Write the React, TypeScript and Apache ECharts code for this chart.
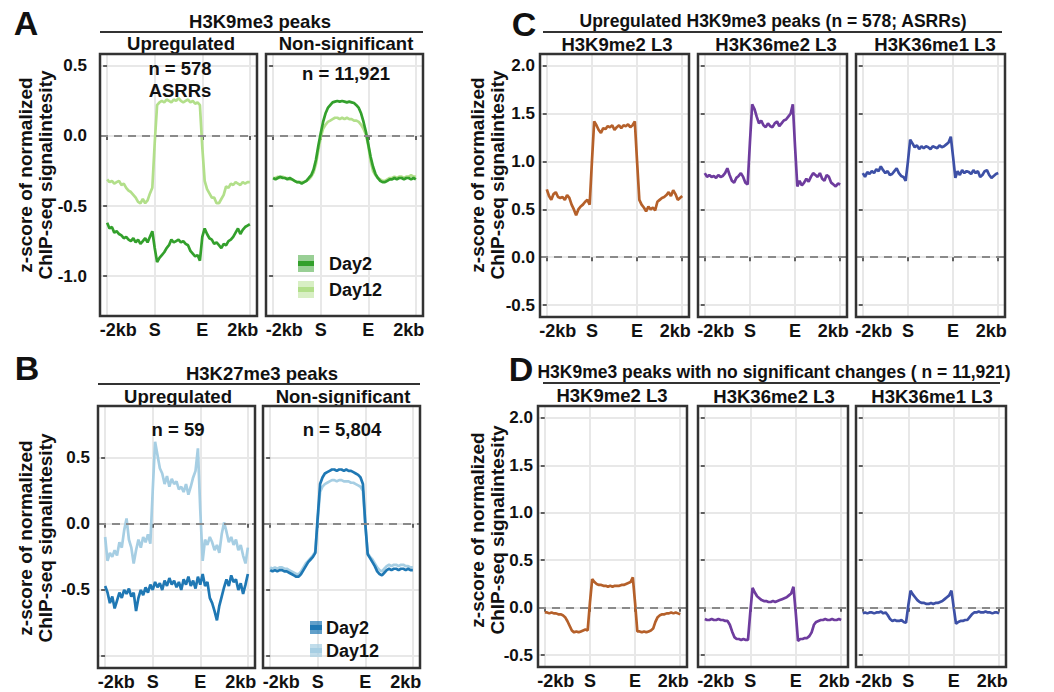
import React, { useEffect, useRef } from "react";
import * as echarts from "echarts";

// ---------- data ----------
const STEP = 0.05; // bin width on the -2kb(0) .. S(1) .. E(2) .. 2kb(3) scale
const X_TICKS = [0, 1, 2, 3];
const X_TICK_LABELS = ["-2kb", "S", "E", "2kb"];

const A_UP_DAY12 = [
  -0.31, -0.33, -0.32, -0.34, -0.33, -0.32, -0.35, -0.34, -0.37, -0.39,
  -0.40, -0.42, -0.44, -0.47, -0.48, -0.45, -0.48, -0.46, -0.41, -0.37,
  -0.05, 0.22, 0.24, 0.25, 0.24, 0.26, 0.25, 0.24, 0.26, 0.25,
  0.27, 0.25, 0.24, 0.25, 0.26, 0.24, 0.25, 0.23, 0.24, 0.22,
  -0.08, -0.32, -0.38, -0.41, -0.44, -0.44, -0.48, -0.48, -0.45, -0.42,
  -0.36, -0.37, -0.34, -0.35, -0.33, -0.34, -0.35, -0.33, -0.34, -0.33,
  -0.33,
];
const A_UP_DAY2 = [
  -0.62, -0.66, -0.65, -0.69, -0.68, -0.70, -0.71, -0.73, -0.72, -0.74,
  -0.75, -0.73, -0.76, -0.74, -0.77, -0.75, -0.73, -0.76, -0.72, -0.68,
  -0.80, -0.90, -0.87, -0.85, -0.83, -0.80, -0.78, -0.74, -0.76, -0.75,
  -0.74, -0.76, -0.75, -0.77, -0.78, -0.82, -0.84, -0.86, -0.85, -0.89,
  -0.72, -0.66, -0.70, -0.73, -0.74, -0.77, -0.76, -0.78, -0.80, -0.77,
  -0.78, -0.75, -0.74, -0.72, -0.69, -0.66, -0.70, -0.67, -0.65, -0.64,
  -0.63,
];
const A_NS_DAY2 = [
  -0.30, -0.31, -0.30, -0.29, -0.30, -0.30, -0.31, -0.30, -0.31, -0.32,
  -0.33, -0.33, -0.34, -0.33, -0.32, -0.30, -0.28, -0.24, -0.17, -0.07,
  0.02, 0.10, 0.16, 0.20, 0.22, 0.24, 0.245, 0.25, 0.245, 0.25,
  0.245, 0.24, 0.245, 0.24, 0.235, 0.22, 0.20, 0.16, 0.10, 0.03,
  -0.06, -0.15, -0.22, -0.27, -0.30, -0.32, -0.33, -0.33, -0.32, -0.31,
  -0.31, -0.30, -0.31, -0.30, -0.30, -0.31, -0.30, -0.30, -0.31, -0.30,
  -0.31,
];
const A_NS_DAY12 = [
  -0.30, -0.30, -0.29, -0.30, -0.29, -0.30, -0.30, -0.31, -0.31, -0.32,
  -0.33, -0.33, -0.33, -0.33, -0.32, -0.31, -0.29, -0.26, -0.20, -0.10,
  -0.01, 0.05, 0.08, 0.10, 0.11, 0.12, 0.13, 0.13, 0.12, 0.13,
  0.12, 0.13, 0.12, 0.12, 0.11, 0.11, 0.10, 0.08, 0.05, 0.01,
  -0.07, -0.18, -0.25, -0.28, -0.30, -0.31, -0.32, -0.32, -0.31, -0.30,
  -0.30, -0.29, -0.30, -0.29, -0.29, -0.30, -0.29, -0.29, -0.28, -0.29,
  -0.29,
];
const B_UP_DAY12 = [
  -0.10, -0.28, -0.22, -0.25, -0.20, -0.24, -0.14, -0.18, -0.05, 0.04,
  -0.12, -0.18, -0.30, -0.20, -0.12, -0.18, -0.10, -0.14, -0.08, -0.15,
  0.25, 0.62, 0.52, 0.42, 0.38, 0.30, 0.36, 0.28, 0.34, 0.30,
  0.32, 0.26, 0.28, 0.24, 0.30, 0.22, 0.28, 0.35, 0.40, 0.57,
  0.10, -0.28, -0.12, -0.16, -0.10, -0.14, -0.20, -0.16, -0.22, -0.08,
  0.01, -0.06, -0.14, -0.10, -0.16, -0.12, -0.20, -0.16, -0.24, -0.30,
  -0.18,
];
const B_UP_DAY2 = [
  -0.47, -0.52, -0.60, -0.55, -0.64, -0.58, -0.52, -0.56, -0.50, -0.53,
  -0.49, -0.55, -0.52, -0.66, -0.56, -0.50, -0.54, -0.48, -0.52, -0.46,
  -0.50, -0.44, -0.48, -0.45, -0.50, -0.43, -0.47, -0.41, -0.46, -0.43,
  -0.48, -0.44, -0.50, -0.42, -0.46, -0.40, -0.47, -0.43, -0.49, -0.40,
  -0.46, -0.38, -0.47, -0.44, -0.56, -0.60, -0.66, -0.73, -0.62, -0.55,
  -0.48, -0.42, -0.47, -0.39, -0.44, -0.42, -0.50, -0.45, -0.53, -0.46,
  -0.38,
];
const B_NS_DAY2 = [
  -0.35, -0.36, -0.35, -0.36, -0.35, -0.35, -0.36, -0.36, -0.37, -0.38,
  -0.39, -0.40, -0.40, -0.38, -0.35, -0.32, -0.29, -0.27, -0.25, -0.22,
  0.05, 0.30, 0.35, 0.38, 0.39, 0.40, 0.41, 0.41, 0.40, 0.41,
  0.41, 0.40, 0.41, 0.40, 0.40, 0.39, 0.38, 0.37, 0.35, 0.30,
  0.00, -0.23, -0.26, -0.29, -0.32, -0.36, -0.38, -0.39, -0.37, -0.35,
  -0.34, -0.35, -0.34, -0.34, -0.35, -0.34, -0.34, -0.35, -0.34, -0.35,
  -0.35,
];
const B_NS_DAY12 = [
  -0.33, -0.34, -0.33, -0.34, -0.33, -0.33, -0.34, -0.34, -0.35, -0.36,
  -0.37, -0.38, -0.38, -0.36, -0.33, -0.30, -0.28, -0.26, -0.24, -0.21,
  0.03, 0.24, 0.28, 0.30, 0.31, 0.32, 0.33, 0.33, 0.32, 0.33,
  0.33, 0.32, 0.32, 0.32, 0.31, 0.31, 0.30, 0.29, 0.28, 0.25,
  0.00, -0.22, -0.25, -0.27, -0.30, -0.33, -0.35, -0.36, -0.34, -0.32,
  -0.31, -0.32, -0.31, -0.31, -0.32, -0.31, -0.31, -0.32, -0.32, -0.33,
  -0.33,
];
const C_K9ME2 = [
  0.71, 0.64, 0.60, 0.66, 0.68, 0.63, 0.62, 0.63, 0.60, 0.65,
  0.62, 0.55, 0.50, 0.44, 0.50, 0.53, 0.55, 0.58, 0.60, 0.55,
  1.00, 1.42, 1.38, 1.33, 1.30, 1.35, 1.34, 1.37, 1.36, 1.38,
  1.33, 1.36, 1.38, 1.35, 1.38, 1.37, 1.39, 1.36, 1.38, 1.42,
  1.00, 0.60, 0.55, 0.52, 0.48, 0.53, 0.50, 0.52, 0.49, 0.58,
  0.60, 0.62, 0.63, 0.65, 0.68, 0.64, 0.70, 0.66, 0.60, 0.62,
  0.64,
];
const C_K36ME2 = [
  0.88, 0.84, 0.86, 0.84, 0.85, 0.83, 0.86, 0.84, 0.85, 0.88,
  0.93, 0.86, 0.80, 0.78, 0.83, 0.85, 0.88, 0.84, 0.78, 0.76,
  1.20, 1.60, 1.55, 1.47, 1.40, 1.43, 1.38, 1.36, 1.40, 1.37,
  1.36, 1.40, 1.42, 1.37, 1.40, 1.43, 1.44, 1.47, 1.50, 1.60,
  1.15, 0.74, 0.80, 0.75, 0.78, 0.82, 0.79, 0.84, 0.88, 0.86,
  0.84, 0.88, 0.82, 0.80, 0.86, 0.84, 0.78, 0.76, 0.74, 0.77,
  0.76,
];
const C_K36ME1 = [
  0.88, 0.84, 0.89, 0.87, 0.90, 0.88, 0.92, 0.90, 0.95, 0.91,
  0.88, 0.90, 0.86, 0.87, 0.90, 0.93, 0.88, 0.85, 0.84, 0.80,
  1.00, 1.23, 1.19, 1.15, 1.17, 1.13, 1.16, 1.14, 1.16, 1.15,
  1.13, 1.16, 1.15, 1.14, 1.17, 1.15, 1.16, 1.18, 1.20, 1.26,
  1.05, 0.83, 0.90, 0.86, 0.91, 0.88, 0.90, 0.89, 0.87, 0.91,
  0.88, 0.90, 0.84, 0.86, 0.90, 0.91, 0.86, 0.83, 0.85, 0.87,
  0.88,
];
const D_K9ME2 = [
  -0.05, -0.05, -0.06, -0.05, -0.06, -0.06, -0.07, -0.07, -0.08, -0.10,
  -0.14, -0.19, -0.24, -0.26, -0.25, -0.26, -0.25, -0.24, -0.23, -0.24,
  0.05, 0.30, 0.27, 0.25, 0.24, 0.24, 0.23, 0.23, 0.22, 0.23,
  0.22, 0.23, 0.23, 0.23, 0.24, 0.24, 0.25, 0.26, 0.27, 0.32,
  0.05, -0.25, -0.25, -0.26, -0.25, -0.26, -0.25, -0.24, -0.22, -0.15,
  -0.10, -0.08, -0.07, -0.07, -0.06, -0.06, -0.05, -0.06, -0.05, -0.06,
  -0.07,
];
const D_K36ME2 = [
  -0.12, -0.13, -0.13, -0.12, -0.13, -0.13, -0.12, -0.13, -0.13, -0.14,
  -0.14, -0.18, -0.25, -0.31, -0.33, -0.33, -0.34, -0.33, -0.34, -0.34,
  -0.05, 0.21, 0.16, 0.12, 0.10, 0.08, 0.07, 0.07, 0.06, 0.06,
  0.07, 0.06, 0.07, 0.08, 0.09, 0.10, 0.11, 0.13, 0.15, 0.22,
  -0.05, -0.35, -0.33, -0.33, -0.32, -0.32, -0.30, -0.26, -0.18, -0.15,
  -0.14, -0.13, -0.13, -0.12, -0.13, -0.13, -0.12, -0.13, -0.13, -0.12,
  -0.13,
];
const D_K36ME1 = [
  -0.06, -0.05, -0.06, -0.05, -0.05, -0.06, -0.05, -0.05, -0.04, -0.06,
  -0.05, -0.08, -0.12, -0.14, -0.13, -0.14, -0.14, -0.13, -0.15, -0.16,
  0.02, 0.18, 0.14, 0.11, 0.08, 0.06, 0.05, 0.05, 0.04, 0.04,
  0.05, 0.04, 0.05, 0.05, 0.06, 0.07, 0.09, 0.11, 0.13, 0.18,
  0.00, -0.17, -0.15, -0.14, -0.14, -0.13, -0.13, -0.10, -0.07, -0.05,
  -0.05, -0.04, -0.05, -0.05, -0.04, -0.05, -0.05, -0.06, -0.05, -0.05,
  -0.06,
];

const Y_TICKS_A = [-1, -0.5, 0, 0.5];
const Y_TICKS_B = [-1, -0.5, 0, 0.5];
const Y_LABELS_B = [-0.5, 0, 0.5];
const Y_TICKS_CD = [-0.5, 0, 0.5, 1, 1.5, 2];

// ---------- colours ----------
const GREEN_D2 = "#33a02c";
const GREEN_D12 = "#b2df8a";
const BLUE_D2 = "#1f78b4";
const BLUE_D12 = "#a6cee3";
const ORANGE = "#b5602a";
const PURPLE = "#6e3c9e";
const NAVY = "#3d50a6";

const FONT = '"Liberation Sans", Arial, Helvetica, sans-serif';
const TITLE_SIZE = 18.5;

type PanelCfg = {
  left: number;
  top: number;
  w: number;
  h: number;
  ymin: number;
  ymax: number;
  yticks: number[];
  ylabels: number[];
  showY: boolean;
  yMargin: number;
  lines: { d: number[]; c: string }[];
};

const PANELS: PanelCfg[] = [
  { left: 100, top: 54, w: 157, h: 262, ymin: -1.285, ymax: 0.585, yticks: Y_TICKS_A, ylabels: Y_TICKS_A, showY: true, yMargin: 13,
    lines: [{ d: A_UP_DAY12, c: GREEN_D12 }, { d: A_UP_DAY2, c: GREEN_D2 }] },
  { left: 266, top: 54, w: 157, h: 262, ymin: -1.285, ymax: 0.585, yticks: Y_TICKS_A, ylabels: [], showY: false, yMargin: 8,
    lines: [{ d: A_NS_DAY12, c: GREEN_D12 }, { d: A_NS_DAY2, c: GREEN_D2 }] },
  { left: 98, top: 406, w: 157, h: 262, ymin: -1.09, ymax: 0.89, yticks: Y_TICKS_B, ylabels: Y_LABELS_B, showY: true, yMargin: 8,
    lines: [{ d: B_UP_DAY12, c: BLUE_D12 }, { d: B_UP_DAY2, c: BLUE_D2 }] },
  { left: 263, top: 406, w: 157, h: 262, ymin: -1.09, ymax: 0.89, yticks: Y_TICKS_B, ylabels: [], showY: false, yMargin: 8,
    lines: [{ d: B_NS_DAY12, c: BLUE_D12 }, { d: B_NS_DAY2, c: BLUE_D2 }] },
  { left: 540, top: 54, w: 149, h: 263, ymin: -0.625, ymax: 2.125, yticks: Y_TICKS_CD, ylabels: Y_TICKS_CD, showY: true, yMargin: 5,
    lines: [{ d: C_K9ME2, c: ORANGE }] },
  { left: 698, top: 54, w: 149, h: 263, ymin: -0.625, ymax: 2.125, yticks: Y_TICKS_CD, ylabels: [], showY: false, yMargin: 5,
    lines: [{ d: C_K36ME2, c: PURPLE }] },
  { left: 856, top: 54, w: 149, h: 263, ymin: -0.625, ymax: 2.125, yticks: Y_TICKS_CD, ylabels: [], showY: false, yMargin: 5,
    lines: [{ d: C_K36ME1, c: NAVY }] },
  { left: 538, top: 406, w: 149, h: 261, ymin: -0.625, ymax: 2.125, yticks: Y_TICKS_CD, ylabels: Y_TICKS_CD, showY: true, yMargin: 5,
    lines: [{ d: D_K9ME2, c: ORANGE }] },
  { left: 698, top: 406, w: 150, h: 261, ymin: -0.625, ymax: 2.125, yticks: Y_TICKS_CD, ylabels: [], showY: false, yMargin: 5,
    lines: [{ d: D_K36ME2, c: PURPLE }] },
  { left: 856, top: 406, w: 150, h: 261, ymin: -0.625, ymax: 2.125, yticks: Y_TICKS_CD, ylabels: [], showY: false, yMargin: 5,
    lines: [{ d: D_K36ME1, c: NAVY }] },
];

function txt(t: string, x: number, y: number, size = TITLE_SIZE, align = "center", rot = 0) {
  return {
    type: "text",
    x,
    y,
    rotation: rot,
    z: 100,
    style: {
      text: t,
      font: `bold ${size}px ${FONT}`,
      fill: "#111",
      textAlign: align,
      textVerticalAlign: "middle",
      align,
      verticalAlign: "middle",
    },
  };
}
function hline(x1: number, x2: number, y: number) {
  return { type: "line", z: 100, shape: { x1, y1: y, x2, y2: y }, style: { stroke: "#333", lineWidth: 2 } };
}
function key(x: number, y: number, w: number, h: number, fill: string, stroke: string) {
  return [
    { type: "rect", z: 100, shape: { x, y, width: w, height: h }, style: { fill } },
    { type: "line", z: 101, shape: { x1: x, y1: y + h / 2, x2: x + w, y2: y + h / 2 }, style: { stroke, lineWidth: 5 } },
  ];
}

const Y_LBL_STYLE = { fontSize: 17, fontWeight: "bold", color: "#111", fontFamily: FONT };
const X_LBL_STYLE = { fontSize: 18, fontWeight: "bold", color: "#111", fontFamily: FONT };

function buildOption() {
  const grid: any[] = [];
  const xAxis: any[] = [];
  const yAxis: any[] = [];
  const series: any[] = [];
  const frames: any[] = [];
  PANELS.forEach((p, k) => {
    grid.push({
      left: p.left, top: p.top, width: p.w, height: p.h,
      show: true, borderWidth: 0, backgroundColor: "#fff",
    });
    frames.push({
      type: "rect", z: 120, silent: true,
      shape: { x: p.left, y: p.top, width: p.w, height: p.h },
      style: { fill: "none", stroke: "#333", lineWidth: 2.5 },
    });
    xAxis.push({
      type: "value", gridIndex: k, min: -0.15, max: 3.15,
      axisLine: { show: false },
      axisTick: { show: true, customValues: X_TICKS, length: 4, lineStyle: { color: "#333", width: 1.5 } },
      axisLabel: {
        customValues: X_TICKS,
        hideOverlap: false,
        formatter: (v: number) => {
          const idx = X_TICKS.indexOf(Math.round(v));
          const t = X_TICK_LABELS[idx] ?? "";
          if (idx === 0) return `{l|${t}}`;
          if (idx === X_TICKS.length - 1) return `{r|${t}}`;
          return `{c|${t}}`;
        },
        rich: {
          l: { ...X_LBL_STYLE, padding: [0, 0, 0, 22] },
          r: { ...X_LBL_STYLE, padding: [0, 14, 0, 0] },
          c: { ...X_LBL_STYLE },
        },
        ...X_LBL_STYLE,
        margin: 5,
      },
      splitLine: { show: true, lineStyle: { color: "#e8e8e8", width: 2 } },
    });
    yAxis.push({
      type: "value", gridIndex: k, min: p.ymin, max: p.ymax,
      axisLine: { show: false },
      axisTick: { show: true, customValues: p.yticks, length: 4, lineStyle: { color: "#333", width: 1.5 } },
      axisLabel: {
        show: p.showY,
        customValues: p.ylabels.length ? p.ylabels : p.yticks,
        formatter: (v: number) => v.toFixed(1),
        ...Y_LBL_STYLE,
        margin: p.yMargin,
      },
      splitLine: { show: true, lineStyle: { color: "#e8e8e8", width: 2 } },
    });
    p.lines.forEach((ln, j) => {
      series.push({
        type: "line", xAxisIndex: k, yAxisIndex: k,
        data: ln.d.map((v, i) => [i * STEP, v]),
        showSymbol: false, symbol: "none",
        lineStyle: { color: ln.c, width: 2.7 },
        itemStyle: { color: ln.c },
        z: 3 + j,
        markLine:
          j === p.lines.length - 1
            ? {
                silent: true, symbol: ["none", "none"], label: { show: false },
                lineStyle: { color: "#8a8a8a", type: [8, 6], width: 2 },
                data: [{ yAxis: 0 }],
              }
            : undefined,
      });
    });
  });

  const ylab = (x1: number, x2: number, cy: number) => [
    txt("z-score of normalized", x1, cy, 19, "center", Math.PI / 2),
    txt("ChIP-seq signalintesity", x2, cy, 19, "center", Math.PI / 2),
  ];

  const graphic: any[] = [
    ...frames,
    txt("A", 26, 23, 34), txt("B", 27, 368, 34), txt("C", 524, 24, 34), txt("D", 521, 369, 34),
    txt("H3K9me3 peaks", 260, 21), hline(100, 423, 32),
    txt("Upregulated", 181, 43), txt("Non-significant", 346, 43),
    txt("n = 578", 180, 68), txt("ASRRs", 180, 90), txt("n = 11,921", 346, 73),
    txt("H3K27me3 peaks", 262, 373), hline(98, 420, 384),
    txt("Upregulated", 178, 396), txt("Non-significant", 343, 396),
    txt("n = 59", 178, 429), txt("n = 5,804", 342, 429),
    txt("Upregulated H3K9me3 peaks (n = 578; ASRRs)", 773, 21, 17.5), hline(543, 1002, 32),
    txt("H3K9me2 L3", 617, 44), txt("H3K36me2 L3", 776, 44), txt("H3K36me1 L3", 935, 44),
    txt("H3K9me3 peaks with no significant changes ( n = 11,921)", 774, 372, 17.5), hline(543, 1000, 383),
    txt("H3K9me2 L3", 612, 395), txt("H3K36me2 L3", 774, 396), txt("H3K36me1 L3", 932, 396),
    ...ylab(25, 45, 175), ...ylab(25, 45, 538), ...ylab(477, 497, 175), ...ylab(477, 497, 530),
    ...key(298, 255, 16, 17, "rgba(51,160,44,0.5)", GREEN_D2),
    ...key(298, 281, 16, 17, "rgba(178,223,138,0.5)", GREEN_D12),
    txt("Day2", 329, 264, 18, "left"), txt("Day12", 329, 290, 18, "left"),
    ...key(310, 621, 12, 13, "rgba(31,120,180,0.7)", BLUE_D2),
    ...key(310, 644, 12, 13, "rgba(166,206,227,0.7)", BLUE_D12),
    txt("Day2", 326, 628, 18, "left"), txt("Day12", 326, 651, 18, "left"),
  ];

  return { animation: false, backgroundColor: "#fff", grid, xAxis, yAxis, series, graphic };
}

export default function App() {
  const ref = useRef<HTMLDivElement>(null);
  useEffect(() => {
    if (!ref.current) return;
    const chart = echarts.init(ref.current, undefined, { renderer: "svg" });
    chart.setOption(buildOption() as any);
    return () => chart.dispose();
  }, []);
  return (
    <div
      ref={ref}
      style={{ position: "absolute", left: 0, top: 0, width: 1054, height: 692, background: "#fff" }}
    />
  );
}
